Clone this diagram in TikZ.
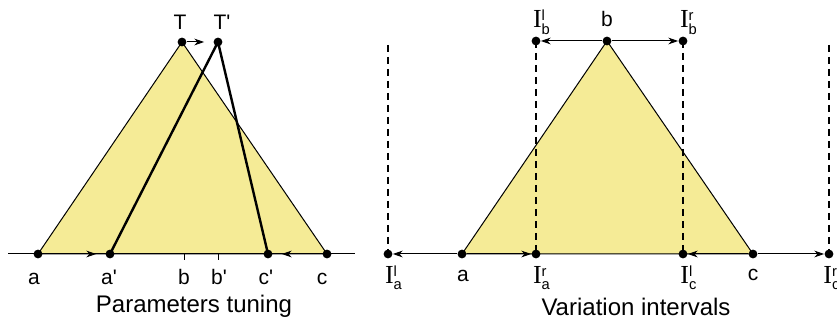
\documentclass[tikz,border=0pt]{standalone}
\usepackage{amsmath}
\usepackage{fontspec}
\setmainfont{Liberation Sans}
\newfontfamily\serifI{Liberation Serif}
\usetikzlibrary{arrows.meta,positioning,backgrounds}
\definecolor{membfill}{RGB}{245,235,150}
\tikzset{
  >={Stealth[length=5pt,width=3.4pt]},
  pt/.style={circle,fill=black,inner sep=0pt,minimum size=4.4pt},
  ptlbl/.style={font=\fontsize{10.5}{12}\selectfont,inner sep=0pt,anchor=base},
  memb/.style={fill=membfill,draw=black,line width=0.5pt},
  shifted/.style={draw=black,line width=1.2pt,line join=round},
  axis/.style={line width=0.5pt},
  move/.style={->,line width=0.5pt,shorten >=4.5pt},
  spread/.style={->,line width=0.5pt},
  bound/.style={line width=1.2pt,dash pattern=on 3.6pt off 2.4pt},
  caption/.style={font=\fontsize{12}{14}\selectfont,inner sep=0pt,anchor=base},
}
\newcommand{\ivl}[2]{{\fontsize{13}{14}\selectfont\serifI I}$^{\text{#1}}_{\text{#2}}$}
\newcommand{\pr}{\textquotesingle}

\begin{document}
\begin{tikzpicture}[x=0.5pt,y=-0.5pt]
  \useasboundingbox (0,0) rectangle (837,320);

  % left: parameters tuning
  \coordinate (axL) at (8,254);
  \coordinate (axR) at (355,254);
  \coordinate (tb) at (184,254);
  \coordinate (tbp) at (218,254);
  \node[pt] (a) at (38,254) {};
  \node[pt] (ap) at (110,254) {};
  \node[pt] (cp) at (268,254) {};
  \node[pt] (c) at (327,254) {};
  \node[pt] (T) at (182,42) {};
  \node[pt] (Tp) at (218,42) {};
  \begin{scope}[on background layer]
    \filldraw[memb] (a.center) -- (T.center) -- (c.center) -- cycle;
    \draw[axis] (axL) -- (axR);
  \end{scope}
  \draw[shifted] (ap.center) -- (Tp.center) -- (cp.center);
  \draw[axis] (tb) -- ++(0,6);
  \draw[axis] (tbp) -- ++(0,6);
  \draw[move] (a) -- (ap);
  \draw[move] (c) -- (cp);
  \draw[move] (T) -- (Tp);

  \node[ptlbl] (la) at (34,285) {a};
  \node[ptlbl] (lap) at (109,285) {a\pr};
  \node[ptlbl] (lb) at (184,285) {b};
  \node[ptlbl] (lbp) at (219,285) {b\pr};
  \node[ptlbl] (lcp) at (266,285) {c\pr};
  \node[ptlbl] (lc) at (322,285) {c};
  \node[ptlbl] (lT) at (180,30) {T};
  \node[ptlbl] (lTp) at (222,30) {T\pr};
  \node[caption] (cap1) at (194,313) {Parameters tuning};

  % right: variation intervals
  \node[pt] (Ial) at (388,254) {};
  \node[pt] (ra) at (462,254) {};
  \node[pt] (Iar) at (536,254) {};
  \node[pt] (Icl) at (683,254) {};
  \node[pt] (rc) at (753,254) {};
  \node[pt] (Icr) at (829,254) {};
  \node[pt] (Ibl) at (536,41) {};
  \node[pt] (rb) at (607,41) {};
  \node[pt] (Ibr) at (683,41) {};
  \coordinate (topL) at (388,45);
  \coordinate (topR) at (829,45);
  \begin{scope}[on background layer]
    \filldraw[memb] (ra.center) -- (rb.center) -- (rc.center) -- cycle;
  \end{scope}
  \draw[bound] (topL) -- (Ial.center);
  \draw[bound] (Ibl.center) -- (Iar.center);
  \draw[bound] (Ibr.center) -- (Icl.center);
  \draw[bound] (topR) -- (Icr.center);
  \draw[spread] (ra) -- (Ial);
  \draw[spread] (ra) -- (Iar);
  \draw[spread] (rc) -- (Icl);
  \draw[spread] (rc) -- (Icr);
  \draw[spread] (rb) -- (Ibl);
  \draw[spread] (rb) -- (Ibr);

  \node[ptlbl] (lIal) at (394,284) {\ivl{l}{a}};
  \node[ptlbl] (lra) at (463,282) {a};
  \node[ptlbl] (lIar) at (542,284) {\ivl{r}{a}};
  \node[ptlbl] (lIcl) at (689,284) {\ivl{l}{c}};
  \node[ptlbl] (lrc) at (753,281) {c};
  \node[ptlbl] (lIcr) at (832,284) {\ivl{r}{c}};
  \node[ptlbl] (lIbl) at (542,28) {\ivl{l}{b}};
  \node[ptlbl] (lrb) at (607,27) {b};
  \node[ptlbl] (lIbr) at (689,28) {\ivl{r}{b}};
  \node[caption] (cap2) at (636,316) {Variation intervals};
\end{tikzpicture}
\end{document}
